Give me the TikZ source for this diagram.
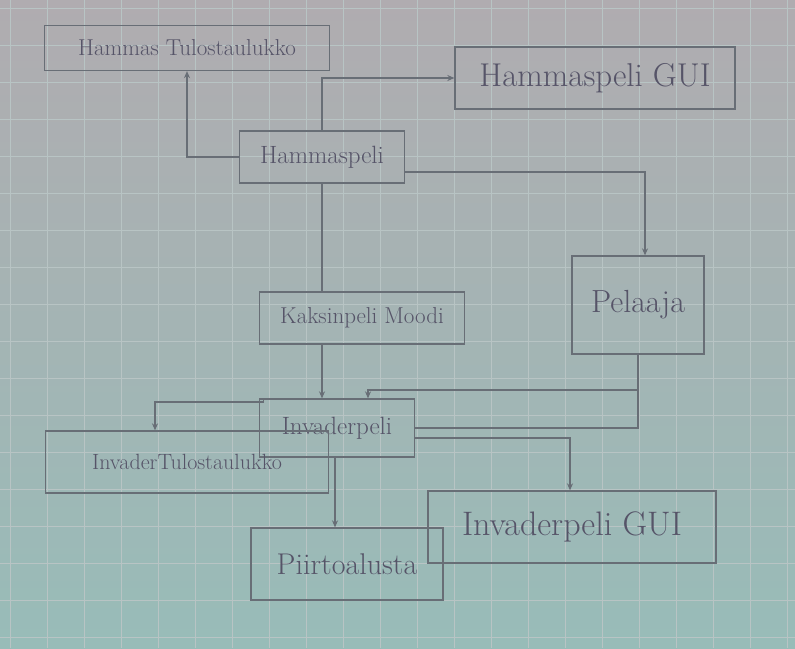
\documentclass[tikz,border=0pt]{standalone}
\usetikzlibrary{arrows.meta}
\definecolor{papertop}{RGB}{176,172,176}
\definecolor{paperbot}{RGB}{152,188,184}
\definecolor{gridc}{RGB}{184,196,196}
\definecolor{pencil}{RGB}{104,110,118}
\definecolor{ink}{RGB}{86,84,104}
\tikzset{
  box/.style={draw=pencil, line width=1.3pt, text=ink, inner sep=1pt},
  conn/.style={draw=pencil, line width=1.2pt},
  arr/.style={conn, -{Stealth[length=7pt,width=6pt]}}
}
\newcommand{\fsz}[1]{\fontsize{#1}{#1}\selectfont}
\begin{document}
\begin{tikzpicture}[x=1pt,y=-1pt]
\useasboundingbox (0,0) rectangle (795,648);
\shade[top color=papertop, bottom color=paperbot] (0,0) rectangle (795,648);
\foreach \i in {0,...,21} {\draw[gridc, line width=0.5pt] (\i*37+10,0) -- (\i*37+10,648);}
\foreach \j in {0,...,17} {\draw[gridc, line width=0.5pt] (0,\j*37+8) -- (795,\j*37+8);}

\node[box, minimum width=285pt, minimum height=45pt, font=\fsz{23}] (ht) at (187,48) {Hammas Tulostaulukko};
\node[box, minimum width=280pt, minimum height=62pt, font=\fsz{33}] (hgui) at (595,78) {Hammaspeli GUI};
\node[box, minimum width=165pt, minimum height=52pt, font=\fsz{25}] (hp) at (322,157) {Hammaspeli};
\node[box, minimum width=205pt, minimum height=52pt, font=\fsz{23}] (km) at (362,318) {Kaksinpeli Moodi};
\node[box, minimum width=132pt, minimum height=98pt, font=\fsz{32}] (pel) at (638,305) {Pelaaja};
\node[box, minimum width=155pt, minimum height=58pt, font=\fsz{25}] (ip) at (337,428) {Invaderpeli};
\node[box, minimum width=283pt, minimum height=62pt, font=\fsz{22}] (it) at (187,462) {InvaderTulostaulukko};
\node[box, minimum width=288pt, minimum height=72pt, font=\fsz{34}] (igui) at (572,527) {Invaderpeli GUI};
\node[box, minimum width=192pt, minimum height=72pt, font=\fsz{30}] (pa) at (347,564) {Piirtoalusta};

\draw[arr] (hp.west) -- (187,157) -- (ht.south -| 187,0);
\draw[arr] (hp.north) |- (hgui.west);
\draw[arr] (hp.east) ++(0,15) -- (645,172) -- (pel.north -| 645,0);
\draw[conn] (hp.south) -- (km.north -| hp.south);
\draw[arr] (km.south -| 322,0) -- (ip.north -| 322,0);
\draw[arr] (pel.south) |- (368,390) -- (ip.north -| 368,0);
\draw[conn] (pel.south) |- (ip.east);
\draw[arr] (ip.north west) ++(5,0) |- (155,402) -- (it.north -| 155,0);
\draw[arr] (ip.east) ++(0,10) -| (igui.north -| 570,0);
\draw[arr] (ip.south -| 335,0) -- (pa.north -| 335,0);
\end{tikzpicture}
\end{document}
